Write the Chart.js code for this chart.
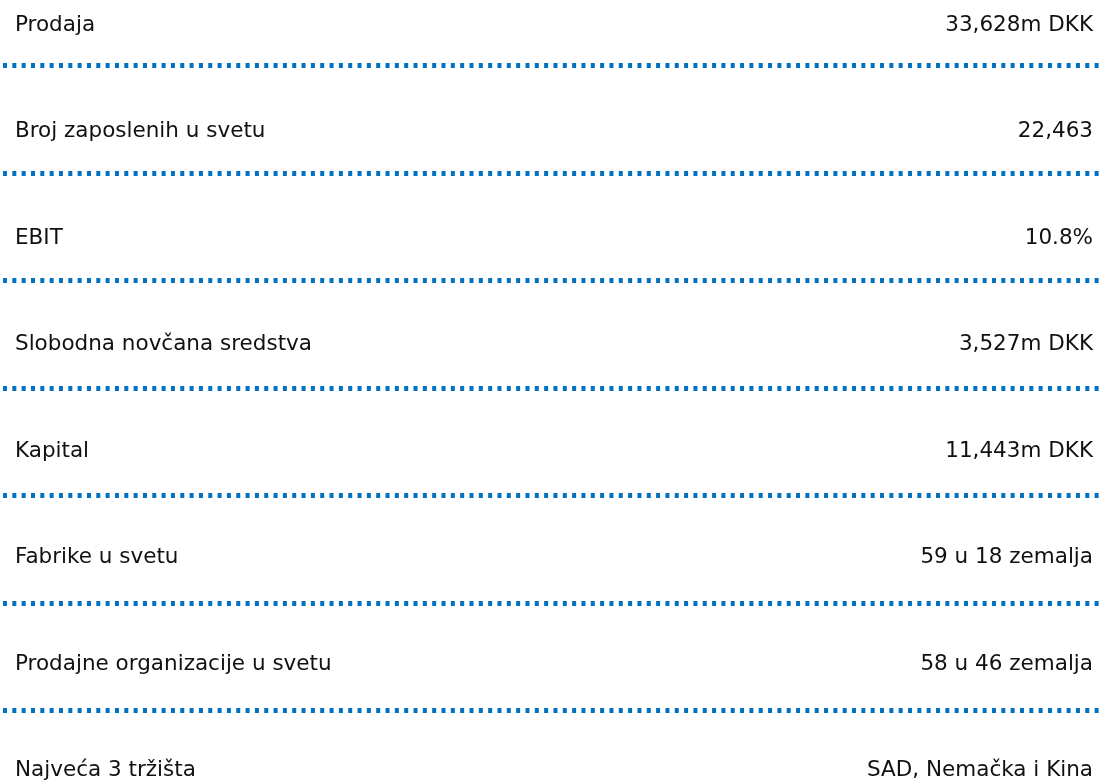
<!DOCTYPE html>
<html>
<head>
<meta charset="utf-8">
<title>Ključni podaci</title>
<script src="https://cdn.jsdelivr.net/npm/chart.js@4.4.1/dist/chart.umd.min.js"></script>
<style>
  html, body { margin: 0; padding: 0; background: #fff; }
  #wrap { width: 1101px; height: 782px; position: relative; }
</style>
</head>
<body>
<div id="wrap"><canvas id="factsChart"></canvas></div>
<script>
// nazivi redova (levo) i vrednosti (desno)
const labels = [
    "Prodaja",
    "Broj zaposlenih u svetu",
    "EBIT",
    "Slobodna novčana sredstva",
    "Kapital",
    "Fabrike u svetu",
    "Prodajne organizacije u svetu",
    "Najveća 3 tržišta"
];
const values = [
    "33,628m DKK",
    "22,463",
    "10.8%",
    "3,527m DKK",
    "11,443m DKK",
    "59 u 18 zemalja",
    "58 u 46 zemalja",
    "SAD, Nemačka i Kina"
];

const blue = "#0070c0";
const textColor = "#111111";
const font = { family: "'DejaVu Sans', Verdana, sans-serif", size: 21.5 };

// ose bez sopstvene sirine, tekst ide preko oblasti grafikona
function flatAxis(scale) {
    scale.width = 0;
    scale.paddingTop = 0;
    scale.paddingBottom = 0;
}

// osa samo za tekst: jedan tick po redu
function textAxis(position, texts, padding) {
    return {
        type: "linear",
        position: position,
        reverse: true,
        offset: false,
        min: -0.12,
        max: 6.94,
        grid: { display: false, drawTicks: false, offset: false },
        border: { display: false },
        afterBuildTicks: scale => {
            scale.ticks = texts.map((t, i) => ({ value: i }));
        },
        ticks: {
            mirror: true,
            crossAlign: "near",
            padding: padding,
            autoSkip: false,
            color: textColor,
            font: font,
            callback: value => texts[value]
        },
        afterFit: flatAxis
    };
}

document.addEventListener("DOMContentLoaded", function() {
    const ctx = document.getElementById("factsChart").getContext("2d");

    new Chart(ctx, {
        type: "bar",
        data: {
            labels: labels,
            datasets: [{
                label: "Podaci",
                data: labels.map(() => null),
                yAxisID: "y"
            }]
        },
        options: {
            indexAxis: "y",
            responsive: true,
            maintainAspectRatio: false,
            animation: false,
            layout: {
                padding: { left: 3, right: 0, top: 12.2, bottom: 17.6 }
            },
            plugins: {
                legend: { display: false },
                tooltip: { enabled: false }
            },
            scales: {
                x: {
                    type: "linear",
                    display: false
                },
                y: {
                    type: "category",
                    position: "left",
                    labels: labels,
                    offset: false,
                    grid: {
                        offset: true,
                        drawTicks: false,
                        lineWidth: 5,
                        color: c => (c.index === undefined ? "rgba(0,0,0,0)" : blue)
                    },
                    border: { display: false, dash: [4, 5.33] },
                    ticks: { display: false },
                    afterFit: flatAxis
                },
                yLeft: textAxis("left", labels, 12),
                yRight: textAxis("right", values, -8)
            }
        }
    });
});
</script>
</body>
</html>
